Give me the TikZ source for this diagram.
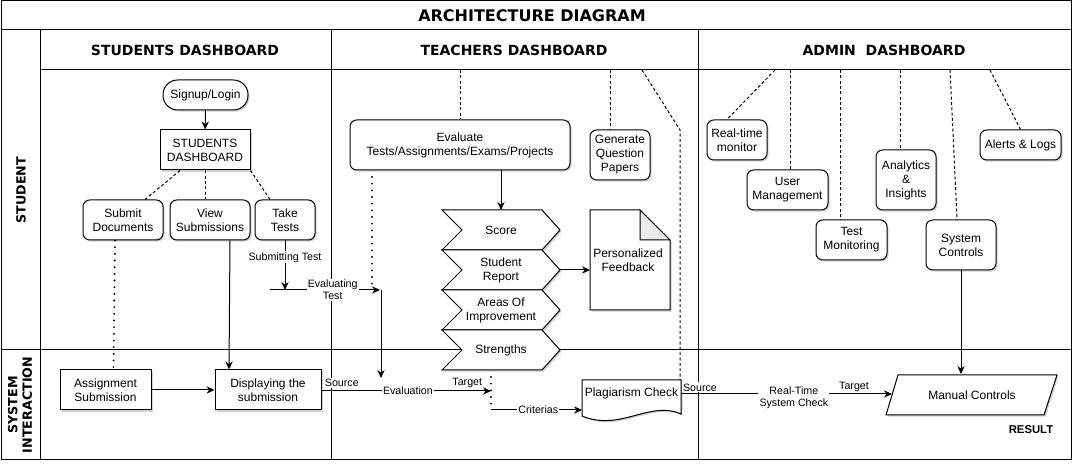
\documentclass[tikz,border=0pt]{standalone}
\usepackage{fontspec}
\setmainfont{Liberation Sans}
\newfontfamily\headfont{DejaVu Sans}
\usetikzlibrary{arrows.meta,shadows}

\tikzset{
  shd/.style={drop shadow={shadow xshift=1.2pt, shadow yshift=-1.2pt, opacity=0.18, fill=black}},
  box/.style={draw, fill=white, shd, align=center, inner sep=1pt, font=\fontsize{9}{10.5}\selectfont, minimum height=30pt},
  rbox/.style={box, rounded corners=5pt},
  txt/.style={align=center, inner sep=1pt, font=\fontsize{9}{10.5}\selectfont},
  lbl/.style={fill=white, inner sep=0.8pt, align=center, font=\fontsize{8}{9}\selectfont},
  arr/.style={-{Stealth[length=6pt,width=5.5pt]}},
  dashline/.style={dash pattern=on 2.2pt off 1.8pt},
  dotline/.style={line width=1.6pt, line cap=round, dash pattern=on 0pt off 5pt},
  hdr/.style={font=\headfont\bfseries\fontsize{10.5}{12}\selectfont},
  lane/.style={font=\headfont\bfseries\fontsize{9.5}{11}\selectfont, align=center, rotate=90},
}

\begin{document}
\begin{tikzpicture}[x=0.75pt,y=0.75pt,yscale=-1,xscale=1,line width=0.75pt]
\useasboundingbox (0,0) rectangle (1083,473);

%Shape: Swimlanes
\draw (1,1) rectangle (1071,460);
\draw (1,30) -- (1071,30);
\draw (40,70) -- (1071,70);
\draw (1,350) -- (1071,350);
\draw (40,30) -- (40,460);
\draw (331,30) -- (331,460);
\draw (698,30) -- (698,460);

% Text Node
\node[hdr, font=\headfont\bfseries\fontsize{12}{14}\selectfont] (title) at (532,16) {ARCHITECTURE DIAGRAM};
\node[hdr] (hstud) at (185,50) {STUDENTS DASHBOARD};
\node[hdr] (hteach) at (514,50) {TEACHERS DASHBOARD};
\node[hdr] (hadmin) at (884,50) {ADMIN\ \ DASHBOARD};
\node[lane] (lstud) at (21,190) {STUDENT};
\node[lane] (lsys) at (20,405) {SYSTEM\\INTERACTION};

%Students column
\node[box, rounded corners=11pt, minimum width=63.75pt, minimum height=22.5pt] (signup) at (205.5,95) {Signup/Login};
\node[box, minimum width=67.5pt] (sdash) at (205,150) {STUDENTS\\DASHBOARD};
\node[rbox, minimum width=60pt] (submit) at (123,220) {Submit\\Documents};
\node[rbox, minimum width=60pt] (view) at (210,220) {View\\Submissions};
\node[rbox, minimum width=45pt] (take) at (285,220) {Take\\Tests};
\node[box, minimum width=68.25pt] (asub) at (105.5,390) {Assignment\\Submission};
\node[box, minimum width=79.5pt] (disp) at (268,390) {Displaying the\\submission};

\draw[arr] (signup) -- (sdash);
\draw[dashline] ([xshift=-18.75pt]sdash.south) -- ([xshift=16.5pt]submit.north);
\draw[dashline] (sdash.south) -- (sdash.south |- view.north);
\draw[dashline] (sdash.south east) -- ([xshift=-11.25pt]take.north);
\draw[dotline] ([xshift=-6pt]submit.south) -- ([xshift=6pt]asub.north);
\draw[arr] ([xshift=15pt]view.south) -- ([xshift=-29.25pt]disp.north);
\draw[arr] (asub) -- (disp);

%Test flow
\coordinate (barl) at (270,290);
\coordinate (barr) at (380,290);
\coordinate (evaldotA) at (372,177);
\coordinate (evaldotB) at (372,288);
\coordinate (evalin) at (381,378);
\draw[arr] (take.south) -- node[lbl, pos=0.34] {Submitting Test} (take.south |- barl);
\draw[arr] (barl) -- node[lbl, pos=0.57] {Evaluating\\Test} (barr);
\draw[dotline] (evaldotA) -- (evaldotB);
\draw (barr) ++(1,0) coordinate (bard);
\draw[arr] (bard) -- (evalin);

%Teachers column
\node[rbox, minimum width=165pt, minimum height=37.5pt] (evalbox) at (460,145) {Evaluate\\Tests/Assignments/Exams/Projects};
\node[rbox, minimum width=45pt, minimum height=37.5pt] (genq) at (620,155) {Generate\\Question\\Papers};
\draw[dashline] (evalbox.north |- 0,70) -- (evalbox.north);
\draw[dashline] ([xshift=-7.5pt]genq.north |- 0,70) -- ([xshift=-7.5pt]genq.north);

%Shape: Steps
\foreach \y/\n/\t in {210/score/Score, 250/report/{Student\\Report}, 290/areas/{Areas Of\\Improvement}, 330/strength/Strengths}{
  \draw[fill=white, shd] (442,\y) -- (542,\y) -- (560,\y+20) -- (542,\y+40) -- (442,\y+40) -- (462,\y+20) -- cycle;
  \coordinate (\n-top) at (501,\y);
  \coordinate (\n-tip) at (560,\y+20);
  \node[txt] (\n) at (501,\y+20) {\t};
}
\draw[arr] (evalbox.south -| score-top) -- (score-top);

%Shape: Document
\draw[fill=white, shd] (590,210) -- (640,210) -- (670,240) -- (670,310) -- (590,310) -- cycle;
\draw[fill=gray!15] (640,210) -- (640,240) -- (670,240) -- cycle;
\node[txt] (feedback) at (628,260) {Personalized\\Feedback};
\draw[arr] (report-tip) -- (report-tip -| 590,0);

%Shape: Plagiarism
\draw[fill=white, shd] (582,380) -- (681,380) -- (681,414) .. controls (650,400) and (620,432) .. (582,416) -- cycle;
\node[txt] (plag) at (631.5,393) {Plagiarism Check};
\coordinate (plagin) at (582,410);
\coordinate (plagout) at (681,393);
\coordinate (plagtop) at (680,380);
\draw[dashline] (642,70) -- (680,130) -- (plagtop);

%System interaction flow
\coordinate (critA) at (491,377);
\coordinate (critB) at (491,410);
\draw[arr] (disp.east |- 0,391) -- node[lbl, pos=0.12, yshift=6pt] {Source} node[lbl, pos=0.51] {Evaluation} node[lbl, pos=0.86, yshift=6pt] {Target} (critA |- 0,391);
\draw[dotline] (critA) -- (critB);
\draw[arr] (critB) -- node[lbl, pos=0.52] {Criterias} (plagin);

%Admin column
\node[rbox, minimum width=45pt] (rtm) at (737,140) {Real-time\\monitor};
\node[rbox, minimum width=60.75pt] (user) at (787.5,190) {User\\Management};
\node[rbox, minimum width=53.25pt] (testm) at (851.5,240) {Test\\Monitoring};
\node[rbox, minimum width=45pt, minimum height=45pt] (analytics) at (906,180) {Analytics\\\&\\Insights};
\node[rbox, minimum width=52.5pt, minimum height=37.5pt] (sysc) at (961,245) {System\\Controls};
\node[rbox, minimum width=60.75pt, minimum height=22.5pt] (alerts) at (1020.5,145) {Alerts \& Logs};
\draw[dashline] (775,70) -- ([xshift=-7.5pt]rtm.north);
\draw[dashline] ([xshift=2.25pt]user.north |- 0,70) -- ([xshift=2.25pt]user.north);
\draw[dashline] ([xshift=-8.6pt]testm.north |- 0,70) -- ([xshift=-8.6pt]testm.north);
\draw[dashline] ([xshift=-4.5pt]analytics.north |- 0,70) -- ([xshift=-4.5pt]analytics.north);
\draw[dashline] (950,70) -- ([xshift=-3pt]sysc.north);
\draw[dashline] (990,70) -- (alerts.north);

%Shape: Parallelogram
\draw[fill=white, shd] (898,375) -- (1057,375) -- (1044,415) -- (886,415) -- cycle;
\node[txt] (manual) at (972,395) {Manual Controls};
\coordinate (manualin) at (892,394);
\draw[arr] (sysc.south) -- (sysc.south |- 0,374);
\draw[arr] (plagout |- 0,394) -- node[lbl, pos=0.09, yshift=5pt] {Source} node[lbl, pos=0.535, yshift=-3pt] {Real-Time\\System Check} node[lbl, pos=0.82, yshift=5pt] {Target} (manualin);

% Text Node
\node[font=\bfseries\fontsize{8.5}{10}\selectfont] (result) at (1031,430) {RESULT};
\end{tikzpicture}
\end{document}
